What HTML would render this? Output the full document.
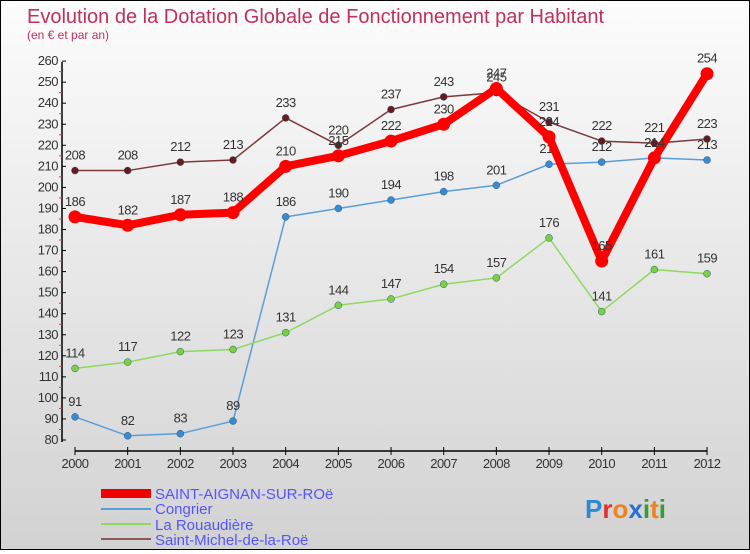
<!DOCTYPE html>
<html><head><meta charset="utf-8"><style>
body{margin:0;width:750px;height:550px;overflow:hidden}
#c{width:748px;height:548px;border:1px solid #000;background:linear-gradient(#fcfcfc,#d2d2d2);position:relative}
text{font-family:"Liberation Sans","DejaVu Sans",sans-serif}
</style></head><body>
<div id="c">
<svg id="s" width="748" height="548" xmlns="http://www.w3.org/2000/svg">
<text x="26" y="22" font-size="20" fill="#c0305a">Evolution de la Dotation Globale de Fonctionnement par Habitant</text>
<text x="26" y="38" font-size="12" fill="#c0305a">(en € et par an)</text>
<g id="axes"></g><g id="series"></g>
<g>
<rect x="100" y="488" width="50" height="9" fill="#e00"/>
<text x="154" y="498" font-size="15" fill="#55f">SAINT-AIGNAN-SUR-ROë</text>
<rect x="100" y="507" width="50" height="2" fill="#5a9ed8"/>
<text x="154" y="513" font-size="15" fill="#55f">Congrier</text>
<rect x="100" y="522" width="50" height="2" fill="#8dd860"/>
<text x="154" y="529" font-size="15" fill="#55f">La Rouaudière</text>
<rect x="100" y="537" width="50" height="2" fill="#8a5a5a"/>
<text x="154" y="544" font-size="15" fill="#55f">Saint-Michel-de-la-Roë</text>
</g>
<text x="584" y="517" font-size="26" font-weight="bold"><tspan fill="#2a8ad8">P</tspan><tspan fill="#e03030">r</tspan><tspan fill="#f08020">o</tspan><tspan fill="#2a70d0">x</tspan><tspan fill="#30a030">i</tspan><tspan fill="#f08020">t</tspan><tspan fill="#30a030">i</tspan></text>
</svg></div>
<script>
const years=[2000,2001,2002,2003,2004,2005,2006,2007,2008,2009,2010,2011,2012];
const yTicks=[80,90,100,110,120,130,140,150,160,170,180,190,200,210,220,230,240,250,260];
const saintAignan=[186,182,187,188,210,215,222,230,247,224,165,214,254];
const congrier=[91,82,83,89,186,190,194,198,201,211,212,214,213];
const rouaudiere=[114,117,122,123,131,144,147,154,157,176,141,161,159];
const saintMichel=[208,208,212,213,233,220,237,243,245,231,222,221,223];
const NS="http://www.w3.org/2000/svg";
const X=i=>74+i*52.67, Y=v=>439-(v-80)*2.105;
function mk(t,a,p){const e=document.createElementNS(NS,t);for(const k in a)e.setAttribute(k,a[k]);p.appendChild(e);return e;}
const ax=document.getElementById('axes');
let l=mk('line',{x1:61,y1:61,x2:61,y2:441,stroke:'#000','stroke-width':1.5},ax);


l=mk('line',{x1:74,y1:450,x2:706,y2:450,stroke:'#000','stroke-width':1.5},ax);


yTicks.forEach(v=>{
 mk('line',{x1:61,x2:65,y1:Y(v),y2:Y(v),stroke:'#000'},ax);
 if(v<260) mk('line',{x1:58,x2:61,y1:Y(v+5),y2:Y(v+5),stroke:'#e33'},ax);
 const t=mk('text',{x:57,y:Y(v)+4,'font-size':13,'text-anchor':'end',fill:'#333','letter-spacing':'-0.5'},ax);
 t.textContent=v;
 
 
});
years.forEach((y,i)=>{
 mk('line',{x1:X(i),x2:X(i),y1:446,y2:454,stroke:'#000'},ax);
 const t=mk('text',{x:X(i),y:467,'font-size':13,'text-anchor':'middle',fill:'#333','letter-spacing':'-0.5'},ax);
 t.textContent=y;
 
 
});
const sg=document.getElementById('series');
function draw(vals,name,color,w,r,dot){
 const g=mk('g',{},sg);
 
 
 const p=mk('polyline',{points:vals.map((v,i)=>X(i)+','+Y(v)).join(' '),fill:'none',stroke:color,'stroke-width':w,'stroke-linejoin':'round'},g);
 
 
 vals.forEach((v,i)=>{
  const c=mk('circle',{cx:X(i),cy:Y(v),r:r,fill:dot,stroke:w>3?'none':'#2a5a7a','stroke-width':0.5},g);
  
  
  const t=mk('text',{x:X(i),y:Y(v)-11,'font-size':13,'text-anchor':'middle',fill:'#333','letter-spacing':'-0.5'},g);
  t.textContent=v;
  
  
 });
}
draw(congrier,'congrier','#5a9ed8',1.5,3.5,'#3a8ad0');
draw(rouaudiere,'rouaudiere','#8dd860',1.5,3.5,'#7ad040');
draw(saintMichel,'saint-michel','#7a3a3a',1.5,3.5,'#6a1a1a');
draw(saintAignan,'saint-aignan','#f00',8,6.5,'#f00');
</script>
</body></html>
